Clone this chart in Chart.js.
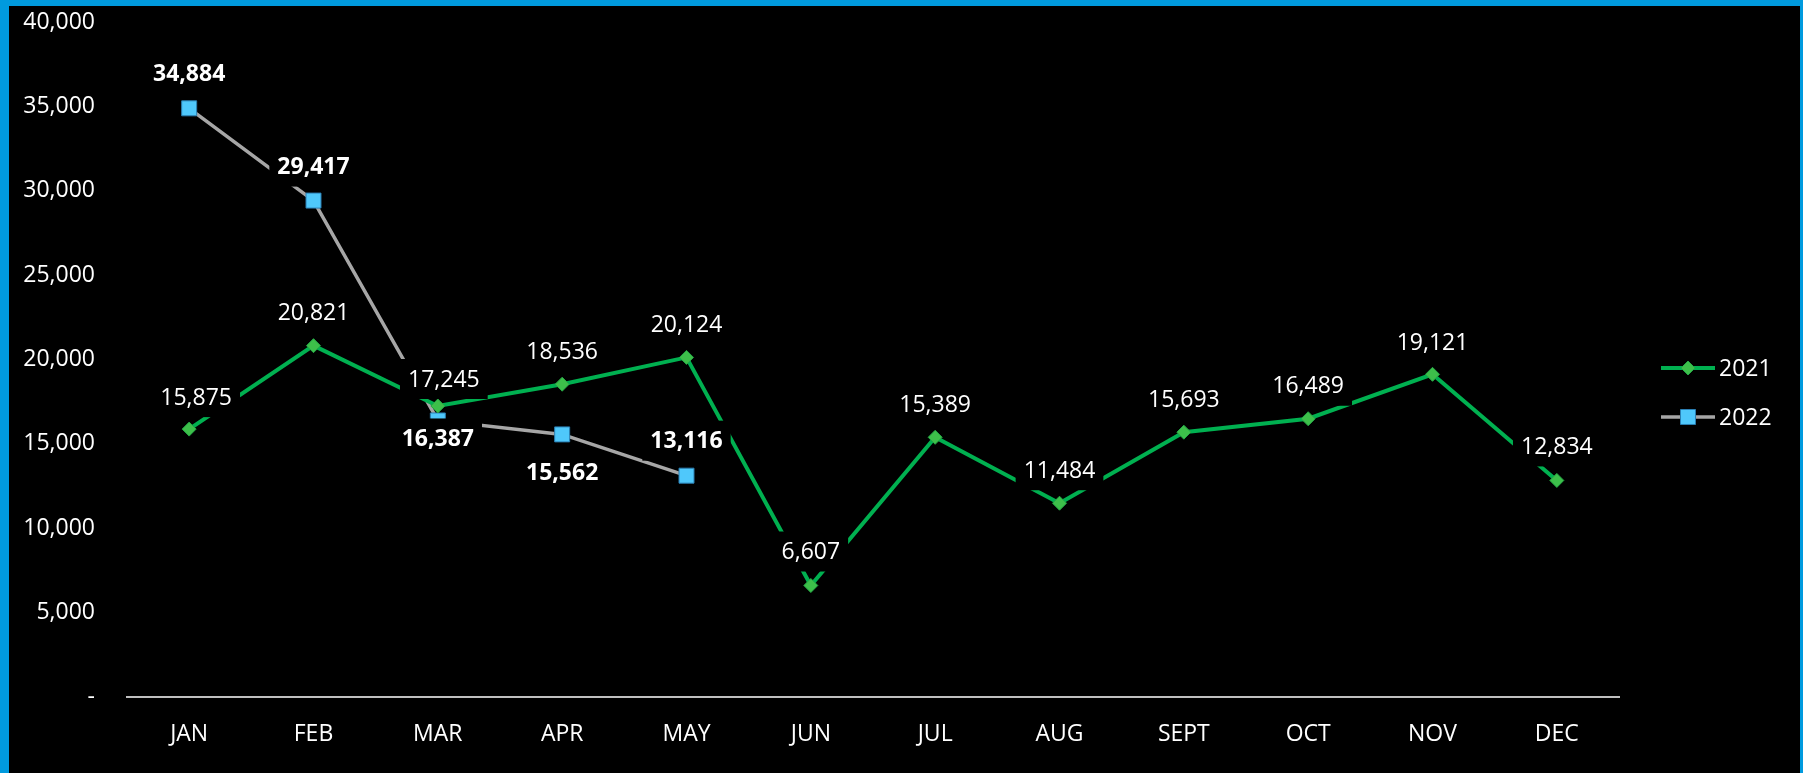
<!DOCTYPE html>
<html>
<head>
<meta charset="utf-8">
<title>Monthly totals 2021 vs 2022</title>
<script src="https://cdn.jsdelivr.net/npm/chart.js@4.4.1/dist/chart.umd.min.js"></script>
<style>
    html, body { margin: 0; padding: 0; }
    body { background: #009ade; width: 1803px; height: 773px; overflow: hidden; position: relative; }
    #frame { position: absolute; left: 9px; top: 6px; width: 1791px; height: 767px; background: #000; }
</style>
</head>
<body>
<div id="frame"><canvas id="monthly-chart"></canvas></div>
<script>
// Monthly figures
const months = ['JAN', 'FEB', 'MAR', 'APR', 'MAY', 'JUN', 'JUL', 'AUG', 'SEPT', 'OCT', 'NOV', 'DEC'];
const values2021 = [15875, 20821, 17245, 18536, 20124, 6607, 15389, 11484, 15693, 16489, 19121, 12834];
const values2022 = [34884, 29417, 16387, 15562, 13116];
const yMin = 0;
const yMax = 40000;
const yStep = 5000;

const FONT = "'Open Sans', sans-serif";
const FONT_SIZE = 23;

Chart.defaults.font.family = FONT;
Chart.defaults.font.size = FONT_SIZE;
Chart.defaults.color = '#ffffff';

function formatNumber(v) {
    return v === 0 ? '-' : v.toLocaleString('en-US');
}

// value labels drawn on a black box so the lines break around them
const valueLabels = {
    id: 'valueLabels',
    afterDatasetsDraw(chart) {
        const ctx = chart.ctx;
        ctx.save();
        ctx.textAlign = 'center';
        ctx.textBaseline = 'middle';
        chart.data.datasets.forEach((ds, i) => {
            const meta = chart.getDatasetMeta(i);
            const opts = ds.valueLabels;
            ctx.font = `${opts.weight} ${FONT_SIZE}px ${FONT}`;
            meta.data.forEach((pt, j) => {
                const v = ds.data[j];
                if (v == null) return;
                const text = formatNumber(v);
                const w = ctx.measureText(text).width + 16;
                const h = 40;
                const cx = pt.x + (opts.dx[j] || 0);
                const cy = pt.y + opts.dy[j];
                ctx.fillStyle = '#000';
                ctx.fillRect(cx - w / 2, cy - h / 2, w, h);
                ctx.fillStyle = '#fff';
                ctx.fillText(text, cx, cy + 1);
            });
        });
        ctx.restore();
    }
};

// legend with line + marker swatches to the right of the plot
const sideLegend = {
    id: 'sideLegend',
    afterDraw(chart) {
        const ctx = chart.ctx;
        const area = chart.chartArea;
        const x0 = area.right + 42;
        const lineLen = 54;
        ctx.save();
        ctx.font = `${FONT_SIZE}px ${FONT}`;
        ctx.textAlign = 'left';
        ctx.textBaseline = 'middle';
        chart.data.datasets.forEach((ds, i) => {
            const y = 362 + i * 49;
            ctx.strokeStyle = ds.borderColor;
            ctx.lineWidth = ds.borderWidth;
            ctx.beginPath();
            ctx.moveTo(x0, y);
            ctx.lineTo(x0 + lineLen, y);
            ctx.stroke();
            ctx.fillStyle = ds.pointBackgroundColor;
            ctx.strokeStyle = ds.pointBorderColor;
            ctx.lineWidth = ds.pointBorderWidth;
            Chart.helpers.drawPoint(ctx, {
                pointStyle: ds.pointStyle,
                radius: ds.pointRadius,
                borderWidth: ds.pointBorderWidth,
                rotation: 0
            }, x0 + lineLen / 2, y);
            ctx.fillStyle = '#fff';
            ctx.fillText(ds.label, x0 + lineLen + 4, y + 1);
        });
        ctx.restore();
    }
};

function initChart() {
    const ctx = document.getElementById('monthly-chart').getContext('2d');
    new Chart(ctx, {
        type: 'line',
        data: {
            labels: months,
            datasets: [{
                label: '2021',
                data: values2021,
                borderColor: '#00b050',
                borderWidth: 4,
                pointStyle: 'rectRot',
                pointRadius: 7,
                pointBackgroundColor: '#3dbf4a',
                pointBorderColor: '#24a745',
                pointBorderWidth: 1,
                tension: 0,
                valueLabels: {
                    weight: 'normal',
                    dx: [7, 0, 6, 0, 0, 0, 0, 0, 0, 0, 0, 0],
                    dy: [-32, -33, -27, -33, -33, -34, -33, -33, -33, -33, -32, -34]
                }
            }, {
                label: '2022',
                data: values2022,
                borderColor: '#a6a6a6',
                borderWidth: 3.5,
                pointStyle: 'rect',
                pointRadius: 10.6,
                pointBackgroundColor: '#4fc8fb',
                pointBorderColor: '#2b7fb3',
                pointBorderWidth: 1,
                tension: 0,
                valueLabels: {
                    weight: 'bold',
                    dx: [0, 0, 0, 0, 0],
                    dy: [-35, -34, 18, 38, -35]
                }
            }]
        },
        options: {
            responsive: true,
            maintainAspectRatio: false,
            animation: false,
            layout: {
                padding: { left: 0, right: 181, top: 16, bottom: 0 }
            },
            plugins: {
                legend: { display: false },
                tooltip: { enabled: false }
            },
            scales: {
                x: {
                    offset: true,
                    grid: { display: false, drawTicks: false },
                    border: { display: true, color: '#bfbfbf', width: 2 },
                    ticks: { padding: 24, color: '#ffffff', maxRotation: 0, autoSkip: false },
                    afterFit(scale) { scale.height = 76; }
                },
                y: {
                    min: yMin,
                    max: yMax,
                    // tick length gives the gap between labels and plot
                    grid: { display: false, drawTicks: true, tickLength: 32 },
                    border: { display: false },
                    ticks: {
                        stepSize: yStep,
                        padding: 0,
                        color: '#ffffff',
                        callback: v => formatNumber(v)
                    },
                    afterFit(scale) { scale.width = 118; }
                }
            }
        },
        plugins: [valueLabels, sideLegend]
    });
}

document.addEventListener('DOMContentLoaded', initChart);
</script>
</body>
</html>
